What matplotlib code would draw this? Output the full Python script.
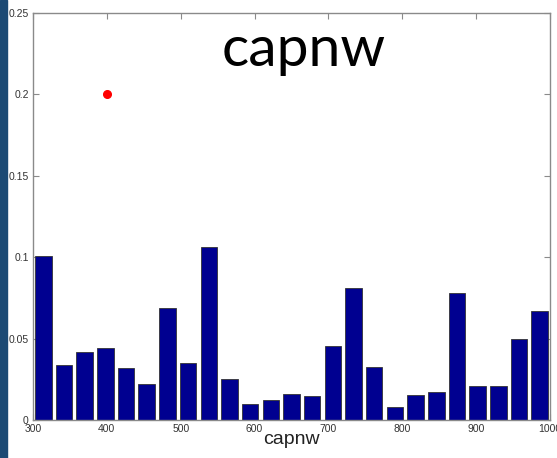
import numpy as np
import matplotlib
matplotlib.use("Agg")
import matplotlib.pyplot as plt

# Data
bin_start, bin_stop, n_bins = 300, 1000, 25
heights = [0.101, 0.034, 0.042, 0.044, 0.032, 0.022, 0.069, 0.035, 0.106,
           0.025, 0.010, 0.012, 0.016, 0.015, 0.0455, 0.081, 0.0326, 0.008,
           0.0156, 0.0174, 0.078, 0.021, 0.021, 0.050, 0.067]
point_x = [400]
point_y = [0.2]
xticks = [300, 400, 500, 600, 700, 800, 900, 1000]
yticks = [0, 0.05, 0.1, 0.15, 0.2, 0.25]
ytick_labels = ["0", "0.05", "0.1", "0.15", "0.2", "0.25"]

edges = np.linspace(bin_start, bin_stop, n_bins + 1)
centers = (edges[:-1] + edges[1:]) / 2
width = (edges[1] - edges[0]) * 0.8

fig = plt.figure(figsize=(5.57, 4.58), dpi=100)
ax = fig.add_axes([33/557, 1 - 420/458, (550-33)/557, (420-13)/458])

ax.bar(centers, heights, width=width, color="#000090", edgecolor="#333333",
       linewidth=0.6, zorder=2)
ax.plot(point_x, point_y, "o", color="#ff0000", markersize=5.5, zorder=3)

ax.set_xlim(bin_start, bin_stop)
ax.set_ylim(0, 0.25)
ax.set_xticks(xticks)
ax.set_yticks(yticks)
ax.set_yticklabels(ytick_labels)
for s in ax.spines.values():
    s.set_color("#8a8a8a")
    s.set_linewidth(1.0)
ax.tick_params(direction="in", length=4, width=0.8, color="#8a8a8a",
               top=True, right=True, labelsize=7.5, labelcolor="#333333", pad=3)
for lab in ax.get_xticklabels() + ax.get_yticklabels():
    lab.set_family(["Liberation Sans", "DejaVu Sans"])
ax.set_xlabel("capnw", fontsize=14, family=["Liberation Sans", "DejaVu Sans"],
              color="#222222", labelpad=-2)

fig.text(304/557, 1 - 50/458, "capnw", fontsize=41, family=["Lato", "DejaVu Sans"],
         ha="center", va="center", color="black")

# left decorative strip
fig.add_artist(plt.Rectangle((0, 0), 7/557, 1, transform=fig.transFigure,
                             color="#1c4a74", zorder=10))

fig.savefig("out.png", dpi=100)
